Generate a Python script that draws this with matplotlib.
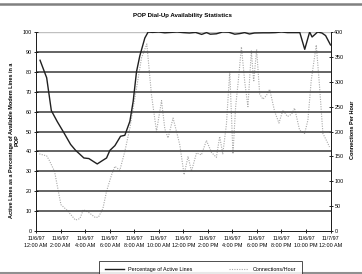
import matplotlib
matplotlib.use("Agg")
import matplotlib.pyplot as plt
from matplotlib.lines import Line2D

plt.rcParams['font.family'] = ['Liberation Sans', 'DejaVu Sans']

title = "POP Dial-Up Availability Statistics"
left_label = "Active Lines as a Percentage of Available Modem Lines in a\nPOP"
right_label = "Connections Per Hour"
tick_labels = ["11/6/97\n12:00 AM", "11/6/97\n2:00 AM", "11/6/97\n4:00 AM", "11/6/97\n6:00 AM",
               "11/6/97\n8:00 AM", "11/6/97\n10:00 AM", "11/6/97\n12:00 PM", "11/6/97\n2:00 PM",
               "11/6/97\n4:00 PM", "11/6/97\n6:00 PM", "11/6/97\n8:00 PM", "11/6/97\n10:00 PM",
               "11/7/97\n12:00 AM"]
tick_hours = [0, 2, 4, 6, 8, 10, 12, 14, 16, 18, 20, 22, 24]

pct_hours = [0.33, 0.87, 1.25, 1.73, 2.28, 2.82, 3.23, 3.5, 3.9, 4.31, 4.99, 5.39, 5.75, 6.02,
             6.43, 6.89, 7.24, 7.65, 7.92, 8.19, 8.46, 8.87, 9.14, 9.5, 10.0, 10.5, 11.0, 11.5,
             12.0, 12.5, 13.0, 13.5, 13.9, 14.2, 14.7, 15.2, 15.7, 16.2, 16.6, 17.0, 17.4, 17.8,
             18.5, 19.0, 19.5, 20.0, 20.5, 21.0, 21.5, 21.9, 22.3, 22.5, 22.95, 23.3, 23.6, 24.0]
pct_values = [85.8, 77, 60.5, 55, 49.3, 43.5, 40.5, 39, 36.7, 36.4, 33.7, 35.3, 36.7, 40.5,
              42.9, 47.6, 48.1, 55.1, 65.2, 80, 88, 97, 100, 99.8, 100, 99.6, 99.8, 100,
              99.7, 99.5, 99.8, 98.8, 99.7, 98.9, 99.1, 100, 99.9, 98.9, 99.2, 99.7, 99.0, 99.5,
              99.6, 99.6, 99.7, 100, 99.7, 99.7, 99.7, 91.3, 100, 97.5, 100, 99.5, 98.2, 93.5]

conn_hours = [0.27, 0.87, 1.06, 1.51, 2.03, 2.56, 3.21, 3.58, 3.86, 4.31, 4.84, 5.09, 5.45, 5.75,
              6.16, 6.43, 6.83, 7.24, 7.65, 8.19, 8.60, 9.03, 9.41, 9.82, 10.23, 10.50, 10.76,
              11.17, 11.45, 11.72, 12.07, 12.39, 12.67, 13.08, 13.48, 13.89, 14.30, 14.70, 14.97,
              15.22, 15.52, 15.79, 16.05, 16.27, 16.48, 16.74, 17.01, 17.27, 17.55, 17.74, 17.98,
              18.23, 18.49, 18.77, 19.04, 19.45, 19.80, 20.12, 20.50, 20.83, 21.07, 21.48, 21.89,
              22.16, 22.43, 22.84, 23.11, 23.38, 23.65, 23.92]
conn_values = [155, 151, 143, 120, 53, 41, 22, 25, 43, 37, 27, 28, 45, 80,
               113, 130, 122, 160, 207, 287, 348, 376, 274, 200, 262, 205, 187,
               227, 200, 173, 113, 150, 120, 157, 153, 182, 158, 148, 190,
               155, 215, 321, 155, 250, 300, 370, 300, 250, 362, 300, 365,
               275, 265, 272, 285, 240, 217, 243, 230, 235, 247, 203, 196,
               223, 303, 374, 290, 196, 183, 169]

W, H = 362, 274
fig = plt.figure(figsize=(W / 100, H / 100), dpi=100)

x0, x1, ytop, ybot = 36, 330.5, 32, 231
ax = fig.add_axes([x0 / W, 1 - ybot / H, (x1 - x0) / W, (ybot - ytop) / H])
ax2 = ax.twinx()

ax.set_xlim(0, 24)
ax.set_ylim(0, 100)
ax2.set_ylim(0, 400)

for v in range(10, 100, 10):
    ax.axhline(v, color='#505050', lw=1.25, zorder=1)
ax.axhline(100, color='#c0c0c0', lw=1.0, zorder=1)

ax2.plot(conn_hours, conn_values, color='#a8a8a8', lw=0.8, linestyle=(0, (1, 1.2)), zorder=2)
ax.set_zorder(ax2.get_zorder() + 1)
ax.patch.set_visible(False)
l1, = ax.plot(pct_hours, pct_values, color='#202020', lw=1.0, zorder=3)

ax.set_xticks(tick_hours)
ax.set_xticklabels(tick_labels, fontsize=3.9, linespacing=1.5)
ax.set_yticks(range(0, 101, 10))
ax.tick_params(axis='y', labelsize=3.9, length=2.5, width=0.6, direction='inout', pad=1.5)
ax.tick_params(axis='x', length=2.5, width=0.6, direction='inout', pad=2)
ax2.set_yticks(range(0, 401, 50))
ax2.tick_params(axis='y', labelsize=3.9, length=2.5, width=0.6, direction='inout', pad=1.5)

for a in (ax, ax2):
    a.spines['top'].set_visible(False)
    for s in ('left', 'right', 'bottom'):
        a.spines[s].set_linewidth(0.7)
        a.spines[s].set_color('#202020')

fig.text(182.5 / W, 1 - 15 / H, title, fontsize=4.4, fontweight='bold', ha='center', va='center')
fig.text(14 / W, 1 - 140 / H, left_label, fontsize=4.0, fontweight='bold', rotation=90,
         ha='center', va='center', linespacing=1.1)
fig.text(352 / W, 1 - 130 / H, right_label, fontsize=4.0, fontweight='bold', rotation=90,
         ha='center', va='center')

l2 = Line2D([], [], color='#a8a8a8', lw=0.8, linestyle=(0, (1, 1.2)))
leg = fig.legend([l1, l2], ["Percentage of Active Lines", "Connections/Hour"],
                 loc='lower left', bbox_to_anchor=(99 / W, 1 - 278 / H, 203 / W, 14 / H),
                 mode='expand', ncol=2, fontsize=3.9, frameon=True, fancybox=False,
                 edgecolor='#202020', handlelength=3.5, borderaxespad=0, borderpad=1.1)
leg.get_frame().set_linewidth(0.7)

fig.add_artist(Line2D([0, 1], [1 - 4 / H, 1 - 4 / H], color='#808080', lw=1.8, transform=fig.transFigure))
fig.add_artist(Line2D([0, 1], [1 - 272.5 / H, 1 - 272.5 / H], color='#909090', lw=1.5, transform=fig.transFigure))

fig.savefig("out.png", dpi=100)
